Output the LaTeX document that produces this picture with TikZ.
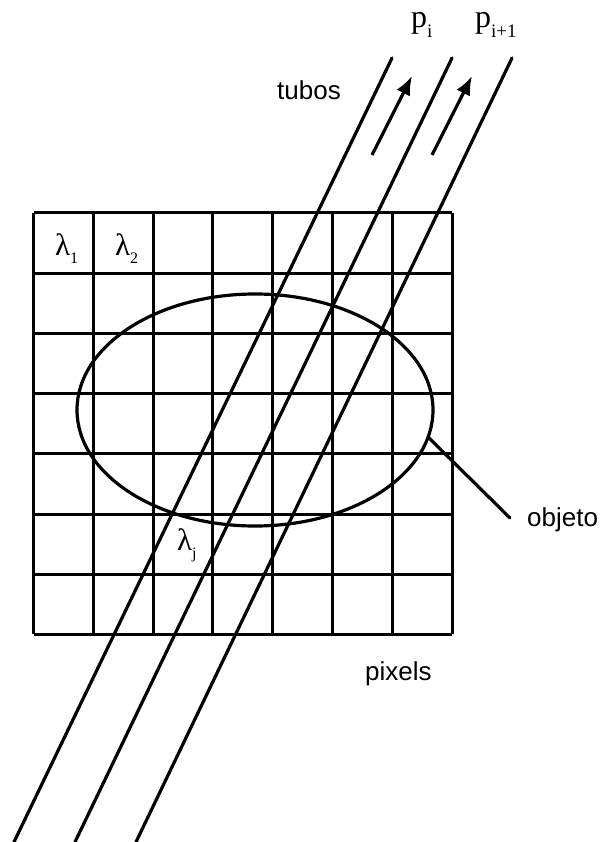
\documentclass[tikz,border=0pt]{standalone}
\usepackage{fontspec}
\newfontfamily\labelfont{Liberation Sans}
\newfontfamily\seriffont{Liberation Serif}
\usetikzlibrary{arrows.meta}
\tikzset{
  thick line/.style={line width=3.2pt, line cap=round},
  gridline/.style={line width=3pt},
  sanslabel/.style={inner sep=0pt, anchor=base west, font=\labelfont\fontsize{26}{28}\selectfont},
  mathlabel/.style={inner sep=0pt, anchor=base west, font=\seriffont},
  flowarrow/.style={line width=3.2pt, -{Latex[length=19pt,width=15pt]}}
}
\newcommand{\lamlab}[1]{{\fontsize{31}{31}\selectfont λ}\raisebox{-8pt}{\fontsize{16}{16}\selectfont #1}}
\newcommand{\plab}[1]{{\fontsize{32}{32}\selectfont p}\raisebox{-10pt}{\fontsize{19}{19}\selectfont #1}}
\begin{document}
\begin{tikzpicture}[x=1pt,y=-1pt]
\useasboundingbox (0,0) rectangle (603,842);
\begin{scope}
\clip (0,0) rectangle (603,842);
% grid of pixels
\foreach \k in {0,...,7} {
  \draw[gridline] ({33.5+59.8*\k},213) -- ({33.5+59.8*\k},634.4);
  \draw[gridline] (33.5,{213+60.2*\k}) -- (452,{213+60.2*\k});
}
% object
\draw[thick line] (255,410) ellipse [x radius=178, y radius=116];
% tubes
\coordinate (t1a) at (392,58);  \coordinate (t1b) at (14,842);
\coordinate (t2a) at (452,58);  \coordinate (t2b) at (75,842);
\coordinate (t3a) at (512,58);  \coordinate (t3b) at (136,842);
\draw[thick line] (t1a) -- (t1b);
\draw[thick line] (t2a) -- (t2b);
\draw[thick line] (t3a) -- (t3b);
\end{scope}
% arrows
\coordinate (a1s) at (372,155); \coordinate (a1e) at (412,76);
\coordinate (a2s) at (432,155); \coordinate (a2e) at (472,76);
\draw[flowarrow] (a1s) -- (a1e);
\draw[flowarrow] (a2s) -- (a2e);
% labels
\node[mathlabel] (pi) at (411,28) {\plab{i}};
\node[mathlabel] (pi1) at (475,28) {\plab{i+1}};
\node[sanslabel] (tubos) at (277,100) {tubos};
\node[sanslabel] (pixels) at (365,680) {pixels};
\node[sanslabel] (objeto) at (527,526) {objeto};
\node[mathlabel] (l1) at (55,255) {\lamlab{1}};
\node[mathlabel] (l2) at (115,255) {\lamlab{2}};
\node[mathlabel] (lj) at (177,550) {\lamlab{j}};
% pointer to object
\coordinate (objpt) at (428,437);
\coordinate (objend) at (510,518);
\draw[thick line] (objpt) -- (objend);
\end{tikzpicture}
\end{document}
